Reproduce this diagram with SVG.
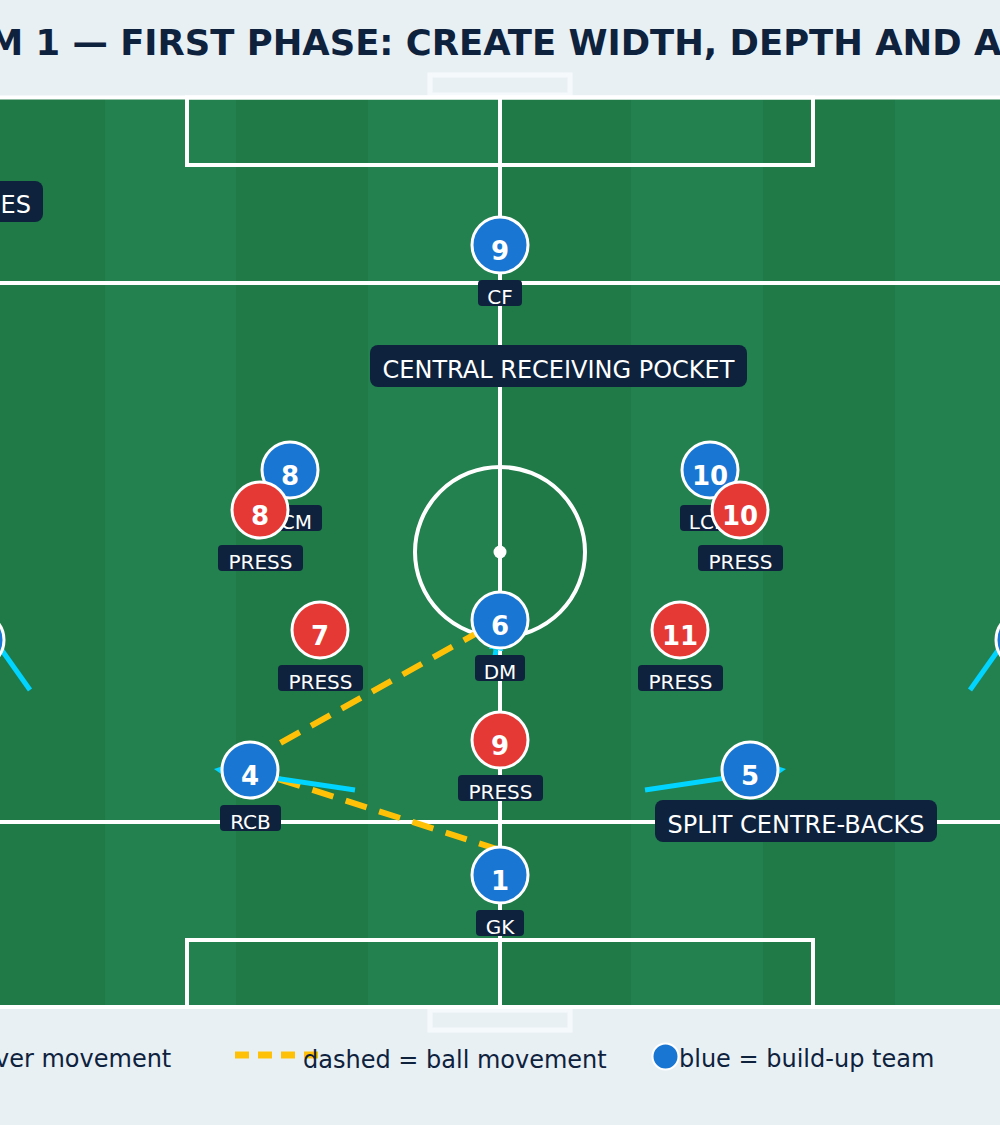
<svg xmlns="http://www.w3.org/2000/svg" width="1000" height="1125" viewBox="0 0 1000 1125">
<style>
.ln{fill:none;stroke:#fff;stroke-width:4}
.lab{fill:#0e223d}
.lt{font-family:"DejaVu Sans",sans-serif;font-size:20px;fill:#fff;text-anchor:middle}
.bt{font-family:"DejaVu Sans",sans-serif;font-size:24px;fill:#fff;text-anchor:middle}
.num{font-family:"DejaVu Sans",sans-serif;font-weight:bold;font-size:26px;fill:#fff;text-anchor:middle}
.blue{fill:#1976d2;stroke:#fff;stroke-width:3}
.red{fill:#e53935;stroke:#fff;stroke-width:3}
.run{stroke:#00d4ff;stroke-width:5;fill:none;marker-end:url(#ah)}
.pass{stroke:#ffc107;stroke-width:6;stroke-dasharray:22 13;fill:none}
.leg{font-family:"DejaVu Sans",sans-serif;font-size:24px;fill:#0e223d}
</style>
<defs>
<marker id="ah" viewBox="0 0 10 10" refX="0" refY="5" markerWidth="3" markerHeight="3" orient="auto" markerUnits="strokeWidth">
<path d="M0,0 L10,5 L0,10 z" fill="#00d4ff"/>
</marker>
</defs>
<rect width="1000" height="1125" fill="#e8f0f4"/>
<text x="-12" y="55" font-family="DejaVu Sans, sans-serif" font-weight="bold" font-size="35.4" fill="#0e223d">M 1 — FIRST PHASE: CREATE WIDTH, DEPTH AND A</text>
<g id="pitch">
<rect x="0" y="97" width="1000" height="910" fill="#1f7a48"/>
<rect x="105" y="97" width="131" height="910" fill="#23804f"/>
<rect x="368" y="97" width="132" height="910" fill="#23804f"/>
<rect x="631" y="97" width="132" height="910" fill="#23804f"/>
<rect x="895" y="97" width="105" height="910" fill="#23804f"/>
<rect x="430" y="75" width="140" height="20" fill="#e8f0f4" stroke="#f5f9fc" stroke-width="5"/>
<rect x="430" y="1010" width="140" height="20" fill="#e8f0f4" stroke="#f5f9fc" stroke-width="5"/>
<rect x="-10" y="97.5" width="1020" height="909.5" class="ln"/>
<line x1="500" y1="97" x2="500" y2="1007" class="ln"/>
<line x1="0" y1="283" x2="1000" y2="283" class="ln"/>
<line x1="0" y1="822" x2="1000" y2="822" class="ln"/>
<rect x="187" y="97.5" width="626" height="67.5" class="ln"/>
<rect x="187" y="940" width="626" height="67" class="ln"/>
<circle cx="500" cy="552" r="85" class="ln"/>
<circle cx="500" cy="552" r="6.5" fill="#fff"/>
</g>
<g id="connectors">
<path class="pass" d="M500,850 L250,770"/>
<path class="pass" d="M250,760 L500,620"/>
<path class="run" d="M355,790 L228.8,771.2"/>
<path class="run" d="M645,790 L771.2,771.2"/>
<path class="run" d="M30,690 L-4,642"/>
<path class="run" d="M970,690 L1004,642"/>
<path class="run" d="M491,680 L496,650"/>
</g>
<g id="p-lw"><circle cx="-24" cy="640" r="28" class="blue"/></g>
<g id="p-rw"><circle cx="1024" cy="640" r="28" class="blue"/></g>
<g id="p-cf"><circle cx="500" cy="245" r="28" class="blue"/><text x="500" y="260" class="num">9</text><rect x="478" y="280" width="44" height="26" rx="4" class="lab"/><text x="500" y="304" class="lt">CF</text></g>
<g id="p-rcm"><circle cx="290" cy="470" r="28" class="blue"/><text x="290" y="485" class="num">8</text><rect x="258" y="505" width="64" height="26" rx="4" class="lab"/><text x="290" y="529" class="lt">RCM</text></g>
<g id="p-lcm"><circle cx="710" cy="470" r="28" class="blue"/><text x="710" y="485" class="num">10</text><rect x="680" y="505" width="60" height="26" rx="4" class="lab"/><text x="710" y="529" class="lt">LCM</text></g>
<g id="p-dm"><circle cx="500" cy="620" r="28" class="blue"/><text x="500" y="635" class="num">6</text><rect x="475" y="655" width="50" height="26" rx="4" class="lab"/><text x="500" y="679" class="lt">DM</text></g>
<g id="p-rcb"><circle cx="250" cy="770" r="28" class="blue"/><text x="250" y="785" class="num">4</text><rect x="220" y="805" width="61" height="26" rx="4" class="lab"/><text x="250.5" y="829" class="lt">RCB</text></g>
<g id="p-lcb"><circle cx="750" cy="770" r="28" class="blue"/><text x="750" y="785" class="num">5</text></g>
<g id="p-gk"><circle cx="500" cy="875" r="28" class="blue"/><text x="500" y="890" class="num">1</text><rect x="476" y="910" width="48" height="26" rx="4" class="lab"/><text x="500" y="934" class="lt">GK</text></g>
<g id="o-8"><circle cx="260" cy="510" r="28" class="red"/><text x="260" y="525" class="num">8</text><rect x="218" y="545" width="85" height="26" rx="4" class="lab"/><text x="260.5" y="569" class="lt">PRESS</text></g>
<g id="o-10"><circle cx="740" cy="510" r="28" class="red"/><text x="740" y="525" class="num">10</text><rect x="698" y="545" width="85" height="26" rx="4" class="lab"/><text x="740.5" y="569" class="lt">PRESS</text></g>
<g id="o-7"><circle cx="320" cy="630" r="28" class="red"/><text x="320" y="645" class="num">7</text><rect x="278" y="665" width="85" height="26" rx="4" class="lab"/><text x="320.5" y="689" class="lt">PRESS</text></g>
<g id="o-11"><circle cx="680" cy="630" r="28" class="red"/><text x="680" y="645" class="num">11</text><rect x="638" y="665" width="85" height="26" rx="4" class="lab"/><text x="680.5" y="689" class="lt">PRESS</text></g>
<g id="o-9"><circle cx="500" cy="740" r="28" class="red"/><text x="500" y="755" class="num">9</text><rect x="458" y="775" width="85" height="26" rx="4" class="lab"/><text x="500.5" y="799" class="lt">PRESS</text></g>
<g id="note-left"><rect x="-200" y="181" width="243" height="41" rx="8" class="lab"/><text x="31" y="213" class="bt" style="text-anchor:end">ES</text></g>
<g id="note-pocket"><rect x="370" y="345" width="377" height="42" rx="8" class="lab"/><text x="558.5" y="378" class="bt">CENTRAL RECEIVING POCKET</text></g>
<g id="note-split"><rect x="655" y="800" width="282" height="42" rx="8" class="lab"/><text x="796" y="833" class="bt">SPLIT CENTRE-BACKS</text></g>
<g id="legend">
<text x="-5" y="1067" class="leg">ver movement</text>
<line x1="235" y1="1055" x2="319" y2="1055" stroke="#ffc107" stroke-width="7" stroke-dasharray="14 9"/>
<text x="303" y="1068" class="leg">dashed = ball movement</text>
<circle cx="665.5" cy="1056.5" r="13" fill="#1976d2" stroke="#fff" stroke-width="2"/>
<text x="679" y="1067" class="leg">blue = build-up team</text>
</g>
</svg>
